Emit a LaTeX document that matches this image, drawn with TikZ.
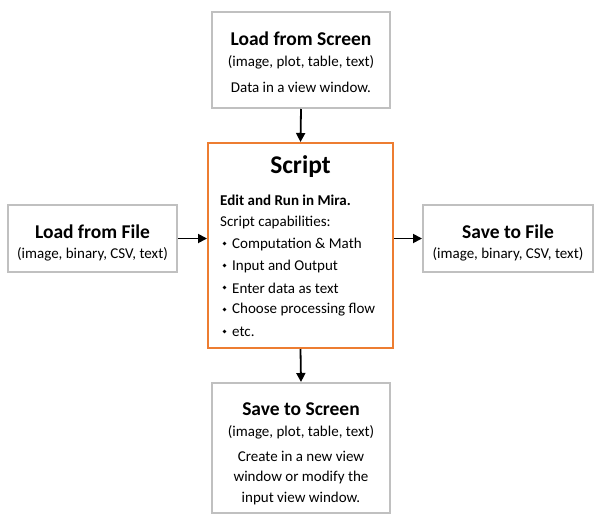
\documentclass[tikz,border=0pt]{standalone}
\usepackage{fontspec}
\setmainfont{Carlito}
\usetikzlibrary{arrows.meta}
\definecolor{boxgray}{HTML}{C0C0C0}
\definecolor{scriptorange}{HTML}{ED7D31}
\begin{document}
\begin{tikzpicture}[x=1pt,y=-1pt,
  graybox/.style={draw=boxgray,line width=2pt,fill=white,inner sep=0pt},
  orangebox/.style={draw=scriptorange,line width=2pt,fill=white,inner sep=0pt},
  txt/.style={inner sep=0pt,anchor=center,font=\fontsize{15}{18}\selectfont},
  ttl/.style={inner sep=0pt,anchor=center,font=\fontsize{19.5}{23}\selectfont\bfseries},
  lft/.style={inner sep=0pt,anchor=west,font=\fontsize{15}{18}\selectfont},
  conn/.style={line width=1.8pt,-{Triangle[length=9pt,width=9pt]}}]
\useasboundingbox (0,0) rectangle (600,522);
% boxes
\node[graybox,minimum width=178pt,minimum height=96pt] (top) at (301,60) {};
\node[orangebox,minimum width=185pt,minimum height=205pt] (script) at (300.5,245.5) {};
\node[graybox,minimum width=169pt,minimum height=67pt] (left) at (92.5,238.5) {};
\node[graybox,minimum width=170pt,minimum height=67pt] (right) at (508,238.5) {};
\node[graybox,minimum width=178pt,minimum height=130pt] (bottom) at (301,448) {};
% top text
\node[ttl] (t1) at (301,39) {Load from Screen};
\node[txt] (t2) at (301,62) {(image, plot, table, text)};
\node[txt] (t3) at (301,87) {Data in a view window.};
% script text
\node[inner sep=0pt,font=\fontsize{25.5}{29}\selectfont\bfseries] (s0) at (300.5,167) {Script};
\node[lft,font=\fontsize{15}{18}\selectfont\bfseries] (s1) at (220,200) {Edit and Run in Mira.};
\node[lft] (s2) at (220,222) {Script capabilities:};
\foreach \y/\t [count=\i] in {244/Computation \& Math,266/Input and Output,288/Enter data as text,310/Choose processing flow,332/etc.}{
  \node[circle,fill=black,inner sep=0pt,minimum size=3.6pt] (b\i) at (224.5,\y-0.5) {};
  \node[lft] (l\i) at (232,\y) {\t};
}
% left text
\node[ttl] (f1) at (92.5,232) {Load from File};
\node[txt] (f2) at (92.5,254) {(image, binary, CSV, text)};
% right text
\node[ttl] (r1) at (508,232) {Save to File};
\node[txt] (r2) at (508,254) {(image, binary, CSV, text)};
% bottom text
\node[ttl] (o1) at (301,409) {Save to Screen};
\node[txt] (o2) at (301,432) {(image, plot, table, text)};
\node[txt] (o3) at (301,456) {Create in a new view};
\node[txt] (o4) at (301,477) {window or modify the};
\node[txt] (o5) at (301,498) {input view window.};
% connectors
\draw[conn] (top.south) -- (script.north);
\draw[conn] (left.east) -- (left.east -| script.west);
\draw[conn] (right.west -| script.east) -- (right.west);
\draw[conn] (script.south) -- (bottom.north);
\end{tikzpicture}
\end{document}
